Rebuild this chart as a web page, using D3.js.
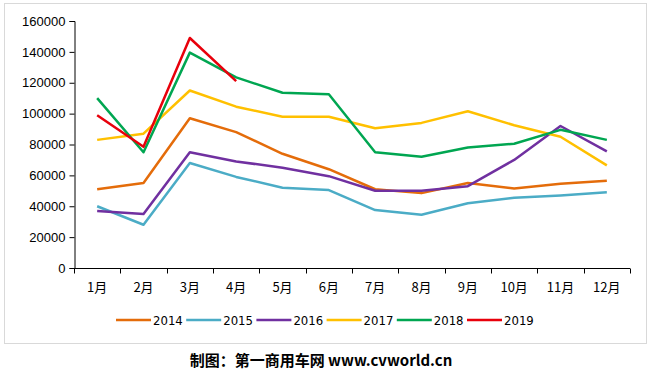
<!DOCTYPE html>
<html>
<head>
<meta charset="utf-8">
<script src="https://cdn.jsdelivr.net/npm/d3@7"></script>
<style>
  body { margin: 0; background: #fff; }
  svg { display: block; }
</style>
</head>
<body>
<svg id="chart" width="652" height="381"></svg>
<script>
const months = ['1月', '2月', '3月', '4月', '5月', '6月', '7月', '8月', '9月', '10月', '11月', '12月']
const years = ['2014', '2015', '2016', '2017', '2018', '2019']
const colors = ['#E46C0A', '#4BACC6', '#7030A0', '#FFC000', '#00A651', '#E8000B']
const yTicks = [0, 20000, 40000, 60000, 80000, 100000, 120000, 140000, 160000]

const s2014 = [51000, 55000, 97000, 88000, 74000, 64000, 51000, 48500, 55000, 51500, 54500, 56500]
const s2015 = [40000, 28000, 68000, 59000, 52000, 50500, 37500, 34500, 42000, 45500, 47000, 49000]
const s2016 = [37000, 35000, 75000, 69000, 65000, 59500, 50000, 50000, 53000, 70000, 92000, 75500]
const s2017 = [83000, 87000, 115000, 104500, 98000, 98000, 90500, 94000, 101500, 92500, 85000, 66500]
const s2018 = [110000, 75000, 139500, 123500, 113500, 112500, 75000, 72000, 78000, 80500, 89500, 83000]
const s2019 = [99000, 78500, 149000, 121000]
const series = [s2014, s2015, s2016, s2017, s2018, s2019]

const svg = d3.select('#chart')

// outer frame
svg.append('rect')
  .attr('x', 4.5).attr('y', 3.5)
  .attr('width', 642).attr('height', 340)
  .attr('fill', '#fff')
  .attr('stroke', '#d9d9d9')

const margin = {left: 74, right: 630, top: 21, bottom: 268}

const x = d3.scaleBand().domain(months).range([margin.left, margin.right])
const y = d3.scaleLinear().domain([0, 160000]).range([margin.bottom, margin.top])

// y axis
const yAxis = svg.append('g')
  .attr('transform', `translate(${margin.left + 0.5},0)`)
  .call(d3.axisLeft(y).tickValues(yTicks).tickSize(5).tickPadding(4).tickFormat(d => d))
yAxis.select('.domain').attr('stroke', '#000')
yAxis.selectAll('line').attr('stroke', '#000')
yAxis.selectAll('text')
  .attr('font-family', 'Arial, "Liberation Sans", sans-serif')
  .attr('font-size', 13)
  .attr('fill', '#000')

// x axis with ticks at band edges
const xAxis = svg.append('g')
  .attr('transform', `translate(0,${margin.bottom + 0.5})`)
xAxis.append('line')
  .attr('x1', margin.left).attr('x2', margin.right)
  .attr('stroke', '#000')
xAxis.selectAll('line.tick')
  .data(months.concat(['end']))
  .join('line')
  .attr('class', 'tick')
  .attr('x1', (d, i) => Math.round(i < 12 ? x(d) : x.range()[1]) + 0.5)
  .attr('x2', (d, i) => Math.round(i < 12 ? x(d) : x.range()[1]) + 0.5)
  .attr('y1', 0).attr('y2', 5)
  .attr('stroke', '#000')
xAxis.selectAll('text')
  .data(months)
  .join('text')
  .attr('x', d => x(d) + x.bandwidth() / 2)
  .attr('y', 23)
  .attr('text-anchor', 'middle')
  .attr('font-family', '"Noto Sans CJK SC", sans-serif')
  .attr('font-size', 13)
  .attr('fill', '#000')
  .text(d => d)

// lines
const line = d3.line()
  .x((d, i) => x(months[i]) + x.bandwidth() / 2)
  .y(d => y(d))

svg.append('g')
  .selectAll('path')
  .data(series)
  .join('path')
  .attr('d', d => line(d))
  .attr('fill', 'none')
  .attr('stroke', (d, i) => colors[i])
  .attr('stroke-width', 2.5)
  .attr('stroke-linejoin', 'round')

// legend
const legend = svg.append('g').attr('transform', 'translate(116,320)')
const item = legend.selectAll('g')
  .data(years)
  .join('g')
  .attr('transform', (d, i) => `translate(${i * 70.2},0)`)
item.append('line')
  .attr('x1', 0).attr('x2', 35)
  .attr('stroke', (d, i) => colors[i])
  .attr('stroke-width', 2.5)
item.append('text')
  .attr('x', 37)
  .attr('y', 5)
  .attr('font-family', '"Liberation Sans Narrow", "DejaVu Sans Condensed", sans-serif')
  .attr('font-size', 13)
  .attr('fill', '#000')
  .text(d => d)

// footer
svg.append('text')
  .attr('x', 321)
  .attr('y', 366)
  .attr('text-anchor', 'middle')
  .attr('font-family', '"Noto Sans CJK SC", sans-serif')
  .attr('font-weight', 'bold')
  .attr('font-size', 15)
  .attr('fill', '#000')
  .text('制图：第一商用车网 www.cvworld.cn')
</script>
</body>
</html>
